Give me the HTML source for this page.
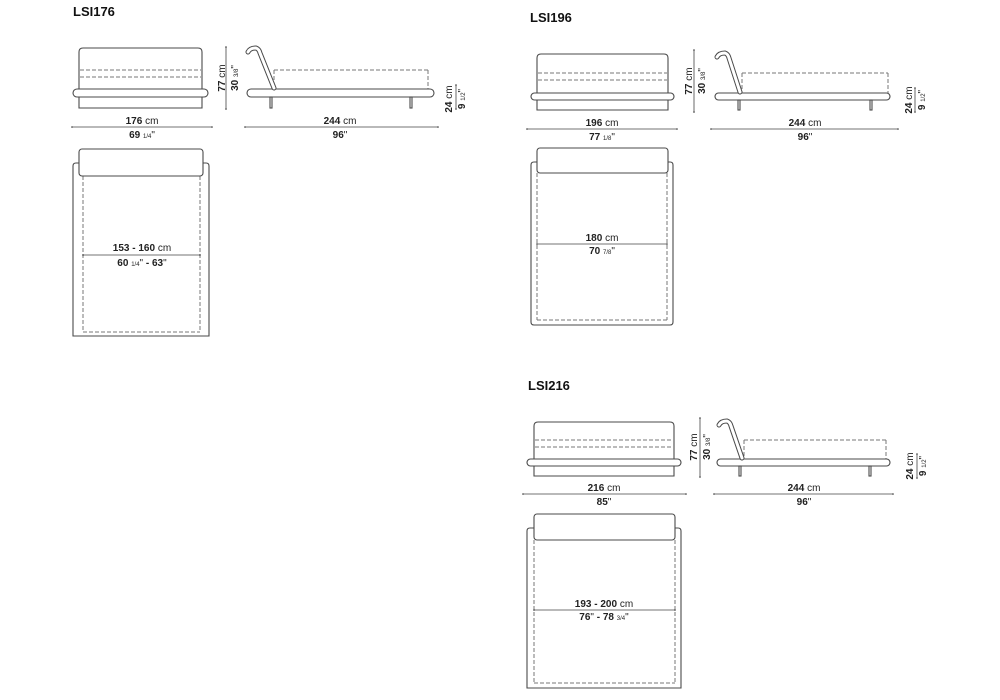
<!DOCTYPE html>
<html><head><meta charset="utf-8"><style>
html,body{margin:0;padding:0;background:#fff;}
svg{display:block;font-family:"Liberation Sans",Arial,sans-serif;}
.o{fill:none;stroke:#4a4a4a;stroke-width:1.1;}
.d{fill:none;stroke:#777;stroke-width:1;stroke-dasharray:4,2;}
.dm{stroke:#444;stroke-width:0.8;}
.t{font-size:10px;fill:#222;text-anchor:middle;}
.b{font-weight:bold;}
.n{font-weight:normal;}
.f{font-size:6px;}
.tube{fill:none;stroke:#4a4a4a;stroke-width:5;stroke-linecap:round;stroke-linejoin:round;}
.tubei{fill:none;stroke:#fff;stroke-width:3;stroke-linecap:round;stroke-linejoin:round;}
</style></head><body>
<svg width="1000" height="700" viewBox="0 0 1000 700" xmlns="http://www.w3.org/2000/svg">
<defs>
<marker id="a" markerWidth="4" markerHeight="4" refX="2" refY="2"><circle cx="2" cy="2" r="1" fill="#333"/></marker>
</defs>

<!-- ===== LSI176 ===== -->
<text x="73" y="16" font-size="13" font-weight="bold" fill="#111">LSI176</text>
<path class="o" d="M79,89 V52 Q79,48 83,48 H198 Q202,48 202,52 V89"/>
<line class="d" x1="80" y1="70" x2="201" y2="70"/>
<line class="d" x1="80" y1="77" x2="201" y2="77"/>
<rect class="o" x="73" y="89" width="135" height="8" rx="4"/>
<path class="o" d="M79,97 V108 H202 V97"/>
<line class="dm" x1="72" y1="127" x2="212" y2="127" marker-start="url(#a)" marker-end="url(#a)"/>
<text class="t b" x="142" y="124">176 <tspan class="n">cm</tspan></text>
<text class="t b" x="142" y="138">69 <tspan class="n f">1/4</tspan><tspan class="n">"</tspan></text>
<line class="dm" x1="226" y1="47" x2="226" y2="109" marker-start="url(#a)" marker-end="url(#a)"/>
<text class="t b" transform="translate(225,78) rotate(-90)">77 <tspan class="n">cm</tspan></text>
<text class="t b" transform="translate(238,78) rotate(-90)">30 <tspan class="n f">3/8</tspan><tspan class="n">"</tspan></text>
<line class="d" x1="274" y1="70" x2="428" y2="70"/>
<line class="d" x1="428" y1="70" x2="428" y2="89"/>
<line class="d" x1="274" y1="70" x2="274" y2="89"/>
<rect class="o" x="247" y="89" width="187" height="8" rx="4"/>
<path class="tube" d="M248,52 Q250,48 256,48 Q259,49 260,53 L274,88"/>
<path class="tubei" d="M248,52 Q250,48 256,48 Q259,49 260,53 L274,88"/>
<rect class="o" x="270" y="97" width="2" height="11"/>
<rect class="o" x="410" y="97" width="2" height="11"/>
<line class="dm" x1="245" y1="127" x2="438" y2="127" marker-start="url(#a)" marker-end="url(#a)"/>
<text class="t b" x="340" y="124">244 <tspan class="n">cm</tspan></text>
<text class="t b" x="340" y="138">96<tspan class="n">"</tspan></text>
<line class="dm" x1="456" y1="85" x2="456" y2="109" marker-start="url(#a)" marker-end="url(#a)"/>
<text class="t b" transform="translate(452,99) rotate(-90)">24 <tspan class="n">cm</tspan></text>
<text class="t b" transform="translate(465,99) rotate(-90)">9 <tspan class="n f">1/2</tspan><tspan class="n">"</tspan></text>
<path class="o" d="M73,166 Q73,163 76,163 H206 Q209,163 209,166 V336 H73 Z"/>
<line class="d" x1="83" y1="176" x2="83" y2="332"/>
<line class="d" x1="200" y1="176" x2="200" y2="332"/>
<line class="d" x1="83" y1="332" x2="200" y2="332"/>
<rect x="79" y="149" width="124" height="27" rx="3" fill="#fff" stroke="#4a4a4a" stroke-width="1.1"/>
<line class="dm" x1="83" y1="255" x2="200" y2="255" marker-start="url(#a)" marker-end="url(#a)"/>
<text class="t b" x="142" y="251">153 - 160 <tspan class="n">cm</tspan></text>
<text class="t b" x="142" y="266">60 <tspan class="n f">1/4</tspan><tspan class="n">"</tspan> - 63<tspan class="n">"</tspan></text>

<!-- ===== LSI196 ===== -->
<text x="530" y="22" font-size="13" font-weight="bold" fill="#111">LSI196</text>
<path class="o" d="M537,93 V58 Q537,54 541,54 H664 Q668,54 668,58 V93"/>
<line class="d" x1="538" y1="73" x2="667" y2="73"/>
<line class="d" x1="538" y1="80" x2="667" y2="80"/>
<rect class="o" x="531" y="93" width="143" height="7" rx="3.5"/>
<path class="o" d="M537,100 V110 H668 V100"/>
<line class="dm" x1="527" y1="129" x2="677" y2="129" marker-start="url(#a)" marker-end="url(#a)"/>
<text class="t b" x="602" y="126">196 <tspan class="n">cm</tspan></text>
<text class="t b" x="602" y="140">77 <tspan class="n f">1/8</tspan><tspan class="n">"</tspan></text>
<line class="dm" x1="694" y1="50" x2="694" y2="112" marker-start="url(#a)" marker-end="url(#a)"/>
<text class="t b" transform="translate(692,81) rotate(-90)">77 <tspan class="n">cm</tspan></text>
<text class="t b" transform="translate(705,81) rotate(-90)">30 <tspan class="n f">3/8</tspan><tspan class="n">"</tspan></text>
<line class="d" x1="742" y1="73" x2="888" y2="73"/>
<line class="d" x1="888" y1="73" x2="888" y2="93"/>
<line class="d" x1="742" y1="73" x2="742" y2="93"/>
<rect class="o" x="715" y="93" width="175" height="7" rx="3.5"/>
<path class="tube" d="M717,57 Q719,53 725,53 Q728,54 729,58 L740,92"/>
<path class="tubei" d="M717,57 Q719,53 725,53 Q728,54 729,58 L740,92"/>
<rect class="o" x="738" y="100" width="2" height="10"/>
<rect class="o" x="870" y="100" width="2" height="10"/>
<line class="dm" x1="711" y1="129" x2="898" y2="129" marker-start="url(#a)" marker-end="url(#a)"/>
<text class="t b" x="805" y="126">244 <tspan class="n">cm</tspan></text>
<text class="t b" x="805" y="140">96<tspan class="n">"</tspan></text>
<line class="dm" x1="915" y1="88" x2="915" y2="112" marker-start="url(#a)" marker-end="url(#a)"/>
<text class="t b" transform="translate(912,100) rotate(-90)">24 <tspan class="n">cm</tspan></text>
<text class="t b" transform="translate(925,100) rotate(-90)">9 <tspan class="n f">1/2</tspan><tspan class="n">"</tspan></text>
<path class="o" d="M531,165 Q531,162 534,162 H670 Q673,162 673,165 V322 Q673,325 670,325 H534 Q531,325 531,322 Z"/>
<line class="d" x1="537" y1="173" x2="537" y2="320"/>
<line class="d" x1="667" y1="173" x2="667" y2="320"/>
<line class="d" x1="537" y1="320" x2="667" y2="320"/>
<rect x="537" y="148" width="131" height="25" rx="3" fill="#fff" stroke="#4a4a4a" stroke-width="1.1"/>
<line class="dm" x1="537" y1="244" x2="667" y2="244" marker-start="url(#a)" marker-end="url(#a)"/>
<text class="t b" x="602" y="241">180 <tspan class="n">cm</tspan></text>
<text class="t b" x="602" y="254">70 <tspan class="n f">7/8</tspan><tspan class="n">"</tspan></text>

<!-- ===== LSI216 ===== -->
<text x="528" y="390" font-size="13" font-weight="bold" fill="#111">LSI216</text>
<path class="o" d="M534,459 V426 Q534,422 538,422 H670 Q674,422 674,426 V459"/>
<line class="d" x1="535" y1="440" x2="673" y2="440"/>
<line class="d" x1="535" y1="447" x2="673" y2="447"/>
<rect class="o" x="527" y="459" width="154" height="7" rx="3.5"/>
<path class="o" d="M534,466 V476 H674 V466"/>
<line class="dm" x1="523" y1="494" x2="686" y2="494" marker-start="url(#a)" marker-end="url(#a)"/>
<text class="t b" x="604" y="491">216 <tspan class="n">cm</tspan></text>
<text class="t b" x="604" y="505">85<tspan class="n">"</tspan></text>
<line class="dm" x1="700" y1="418" x2="700" y2="477" marker-start="url(#a)" marker-end="url(#a)"/>
<text class="t b" transform="translate(697,447) rotate(-90)">77 <tspan class="n">cm</tspan></text>
<text class="t b" transform="translate(710,447) rotate(-90)">30 <tspan class="n f">3/8</tspan><tspan class="n">"</tspan></text>
<line class="d" x1="744" y1="440" x2="886" y2="440"/>
<line class="d" x1="886" y1="440" x2="886" y2="459"/>
<line class="d" x1="744" y1="440" x2="744" y2="459"/>
<rect class="o" x="717" y="459" width="173" height="7" rx="3.5"/>
<path class="tube" d="M719,425 Q721,421 727,421 Q730,422 731,426 L742,458"/>
<path class="tubei" d="M719,425 Q721,421 727,421 Q730,422 731,426 L742,458"/>
<rect class="o" x="739" y="466" width="2" height="10"/>
<rect class="o" x="869" y="466" width="2" height="10"/>
<line class="dm" x1="714" y1="494" x2="893" y2="494" marker-start="url(#a)" marker-end="url(#a)"/>
<text class="t b" x="804" y="491">244 <tspan class="n">cm</tspan></text>
<text class="t b" x="804" y="505">96<tspan class="n">"</tspan></text>
<line class="dm" x1="917" y1="454" x2="917" y2="478" marker-start="url(#a)" marker-end="url(#a)"/>
<text class="t b" transform="translate(913,466) rotate(-90)">24 <tspan class="n">cm</tspan></text>
<text class="t b" transform="translate(926,466) rotate(-90)">9 <tspan class="n f">1/2</tspan><tspan class="n">"</tspan></text>
<path class="o" d="M527,531 Q527,528 530,528 H678 Q681,528 681,531 V688 H527 Z"/>
<line class="d" x1="534" y1="540" x2="534" y2="683"/>
<line class="d" x1="675" y1="540" x2="675" y2="683"/>
<line class="d" x1="534" y1="683" x2="675" y2="683"/>
<rect x="534" y="514" width="141" height="26" rx="3" fill="#fff" stroke="#4a4a4a" stroke-width="1.1"/>
<line class="dm" x1="534" y1="610" x2="675" y2="610" marker-start="url(#a)" marker-end="url(#a)"/>
<text class="t b" x="604" y="607">193 - 200 <tspan class="n">cm</tspan></text>
<text class="t b" x="604" y="620">76<tspan class="n">"</tspan> - 78 <tspan class="n f">3/4</tspan><tspan class="n">"</tspan></text>
</svg>
</body></html>
